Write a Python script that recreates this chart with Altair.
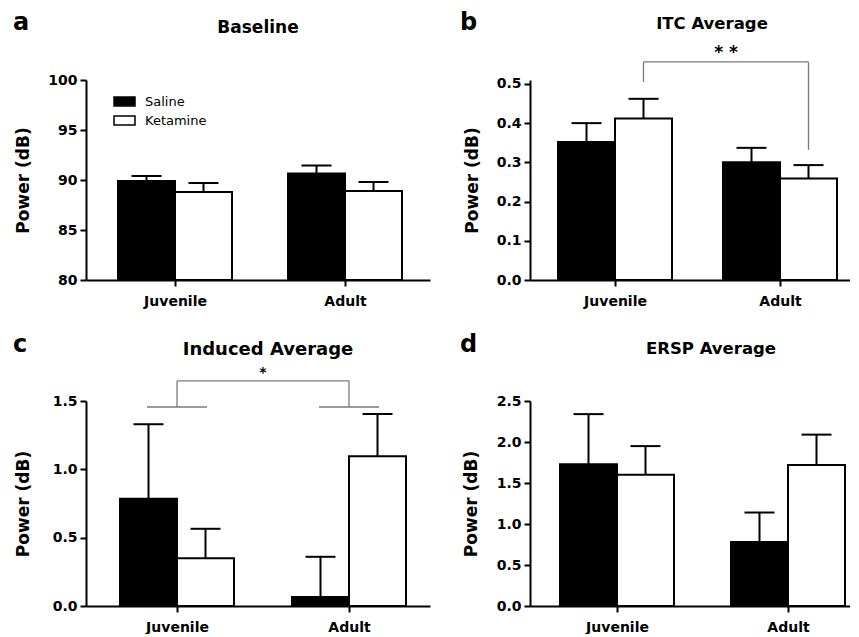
import altair as alt
import pandas as pd

FONT = "DejaVu Sans"

categories = ["Juvenile", "Adult"]
groups = ["Saline", "Ketamine"]

# panel a: Baseline
baseline_saline = [89.9, 90.65]
baseline_saline_err = [0.5, 0.8]
baseline_ketamine = [88.8, 88.9]
baseline_ketamine_err = [0.9, 0.9]

# panel b: ITC Average
itc_saline = [0.352, 0.300]
itc_saline_err = [0.048, 0.037]
itc_ketamine = [0.412, 0.259]
itc_ketamine_err = [0.050, 0.034]

# panel c: Induced Average
induced_saline = [0.785, 0.065]
induced_saline_err = [0.545, 0.295]
induced_ketamine = [0.35, 1.095]
induced_ketamine_err = [0.215, 0.31]

# panel d: ERSP Average
ersp_saline = [1.73, 0.78]
ersp_saline_err = [0.61, 0.36]
ersp_ketamine = [1.60, 1.72]
ersp_ketamine_err = [0.35, 0.37]

# significance annotations (data units)
itc_sig_text = "* *"
itc_bracket_top = 0.556
itc_bracket_left_end = 0.505
itc_bracket_right_end = 0.332
itc_sig_y = 0.565

induced_sig_text = "*"
induced_arm_level = 1.456
induced_bracket_top = 1.647
induced_sig_y = 1.672

BAR_PX = 57
CAP_HALF_PX = 15


def bar_table(sal, sal_err, ket, ket_err, base, unit):
    barw = BAR_PX / unit
    caph = CAP_HALF_PX / unit
    rows = []
    for i, cat in enumerate(categories):
        pos = i + 1
        for g, vals, errs, lo in ((groups[0], sal, sal_err, pos - barw),
                                  (groups[1], ket, ket_err, pos)):
            c = lo + barw / 2
            rows.append(dict(category=cat, group=g, x_lo=lo, x_hi=lo + barw,
                             x_c=c, cap_lo=c - caph, cap_hi=c + caph,
                             value=vals[i], top=vals[i] + errs[i], base=base))
    return pd.DataFrame(rows)


def text_layer(txt, x, y, size, align="left", weight="bold"):
    return alt.Chart(pd.DataFrame({"t": [txt]})).mark_text(
        align=align, baseline="alphabetic", fontSize=size, fontWeight=weight,
        font=FONT, color="black"
    ).encode(text="t:N", x=alt.value(x), y=alt.value(y))


def panel(df, letter, title, title_size, title_x, title_y, letter_x, letter_y,
          ydomain, yticks, yfmt, height, xdomain, width, axis_title_x,
          legend=None, extra=()):
    xscale = alt.Scale(domain=xdomain, nice=False, zero=False)
    yscale = alt.Scale(domain=ydomain, nice=False, zero=False)
    label_expr = "[" + ",".join("'%s'" % c for c in categories) + "][datum.value - 1]"
    xaxis = alt.Axis(values=[1, 2], labelExpr=label_expr, title=None,
                     labelFontSize=14, labelFontWeight="bold", labelFont=FONT,
                     labelPadding=8, tickSize=6, labelColor="black", grid=False)
    yaxis = alt.Axis(values=yticks, format=yfmt, title="Power (dB)",
                     titleX=axis_title_x, titleBaseline="middle",
                     titleFontSize=17, titleFontWeight="bold", titleFont=FONT,
                     labelFontSize=14, labelFontWeight="bold", labelFont=FONT,
                     labelPadding=3, tickSize=6, labelColor="black",
                     titleColor="black", grid=False)
    bars = alt.Chart(df).mark_bar(stroke="black", strokeWidth=2).encode(
        x=alt.X("x_lo:Q", scale=xscale, axis=xaxis),
        x2="x_hi:Q",
        y=alt.Y("value:Q", scale=yscale, axis=yaxis),
        y2="base:Q",
        fill=alt.Fill("group:N", scale=alt.Scale(domain=groups, range=["black", "white"]),
                      legend=legend),
    )
    stems = alt.Chart(df).mark_rule(color="black", strokeWidth=2).encode(
        x=alt.X("x_c:Q", scale=xscale, axis=xaxis),
        y=alt.Y("value:Q", scale=yscale, axis=yaxis),
        y2="top:Q",
    )
    caps = alt.Chart(df).mark_rule(color="black", strokeWidth=2).encode(
        x=alt.X("cap_lo:Q", scale=xscale, axis=xaxis),
        x2="cap_hi:Q",
        y=alt.Y("top:Q", scale=yscale, axis=yaxis),
    )
    layers = [bars, stems, caps]
    for ex in extra:
        layers.append(ex(xscale, yscale, xaxis, yaxis))
    layers.append(text_layer(letter, letter_x, letter_y, 24))
    layers.append(text_layer(title, title_x, title_y, title_size, align="center"))
    return alt.layer(*layers).properties(width=width, height=height)


def bracket_layers(segs, label, label_x, label_y, label_size):
    seg_df = pd.DataFrame(segs, columns=["x", "x2", "y", "y2"])
    lab_df = pd.DataFrame({"x": [label_x], "y": [label_y], "t": [label]})

    def rules(xscale, yscale, xaxis, yaxis):
        return alt.Chart(seg_df).mark_rule(color="#7a7a7a", strokeWidth=1.3).encode(
            x=alt.X("x:Q", scale=xscale, axis=xaxis), x2="x2:Q",
            y=alt.Y("y:Q", scale=yscale, axis=yaxis), y2="y2:Q")

    def lab(xscale, yscale, xaxis, yaxis):
        return alt.Chart(lab_df).mark_text(
            baseline="alphabetic", align="center", fontSize=label_size,
            fontWeight="bold", font=FONT, color="black").encode(
            x=alt.X("x:Q", scale=xscale, axis=xaxis),
            y=alt.Y("y:Q", scale=yscale, axis=yaxis), text="t:N")
    return [rules, lab]


# ---------- panel a
unit_a = 170.0
dom_a = [1 - 89 / unit_a, 1 - 89 / unit_a + 344 / unit_a]
df_a = bar_table(baseline_saline, baseline_saline_err, baseline_ketamine,
                 baseline_ketamine_err, 80, unit_a)
leg = alt.Legend(orient="none", legendX=27, legendY=10, title=None, padding=0,
                 symbolType="M-1,-0.42H1V0.42H-1Z", symbolSize=441,
                 symbolStrokeColor="black", symbolStrokeWidth=1.5,
                 labelFontSize=13, labelFont=FONT, labelColor="black",
                 labelOffset=9, rowPadding=-1)
pa = panel(df_a, "a", "Baseline", 17, 172, -47, -73, -50,
           [80, 100], [80, 85, 90, 95, 100], "d", 200, dom_a, 344, -63, legend=leg)

# ---------- panel b
unit_b = 165.0
dom_b = [1 - 85 / unit_b, 1 - 85 / unit_b + 320 / unit_b]
df_b = bar_table(itc_saline, itc_saline_err, itc_ketamine, itc_ketamine_err, 0, unit_b)
kb = BAR_PX / unit_b / 2
lb, rb = 1 + kb, 2 + kb
segs_b = [[lb, rb, itc_bracket_top, itc_bracket_top],
          [lb, lb, itc_bracket_top, itc_bracket_left_end],
          [rb, rb, itc_bracket_top, itc_bracket_right_end]]
pb = panel(df_b, "b", "ITC Average", 16.5, 182, -51, -70, -50,
           [0, 0.51], [0, 0.1, 0.2, 0.3, 0.4, 0.5], ".1f", 200, dom_b, 320, -58,
           extra=bracket_layers(segs_b, itc_sig_text, (lb + rb) / 2, itc_sig_y, 17))

# ---------- panel c
unit_c = 172.0
dom_c = [1 - 91 / unit_c, 1 - 91 / unit_c + 344 / unit_c]
df_c = bar_table(induced_saline, induced_saline_err, induced_ketamine,
                 induced_ketamine_err, 0, unit_c)
arm = 30 / unit_c
segs_c = [[1 - arm, 1 + arm, induced_arm_level, induced_arm_level],
          [2 - arm, 2 + arm, induced_arm_level, induced_arm_level],
          [1, 1, induced_arm_level, induced_bracket_top],
          [2, 2, induced_arm_level, induced_bracket_top],
          [1, 2, induced_bracket_top, induced_bracket_top]]
pc = panel(df_c, "c", "Induced Average", 18, 182, -46, -73, -49,
           [0, 1.5], [0, 0.5, 1.0, 1.5], ".1f", 205, dom_c, 344, -63,
           extra=bracket_layers(segs_c, induced_sig_text, 1.5, induced_sig_y, 14))

# ---------- panel d
unit_d = 171.0
dom_d = [1 - 87 / unit_d, 1 - 87 / unit_d + 320 / unit_d]
df_d = bar_table(ersp_saline, ersp_saline_err, ersp_ketamine, ersp_ketamine_err, 0, unit_d)
pd_ = panel(df_d, "d", "ERSP Average", 16.5, 181, -47, -70, -49,
            [0, 2.5], [0, 0.5, 1.0, 1.5, 2.0, 2.5], ".1f", 205, dom_d, 320, -59)

chart = alt.concat(pa, pb, pc, pd_, columns=2, spacing={"row": 121, "column": 100},
                   bounds="flush").resolve_scale(fill="independent").resolve_legend(
    fill="independent").properties(
    padding={"left": 5, "top": 3, "right": 0, "bottom": 0}
).configure(font=FONT).configure_view(stroke=None).configure_axis(
    grid=False, domainColor="black", domainWidth=2, tickColor="black", tickWidth=2
)

chart.save("out.html", embed_options={"renderer": "svg", "actions": False})
